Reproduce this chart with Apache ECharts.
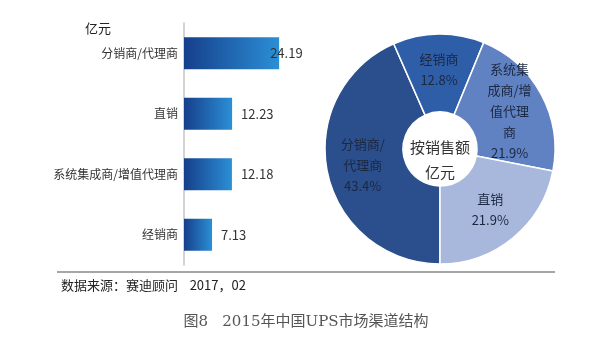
<!DOCTYPE html>
<html><head><meta charset="utf-8">
<script src="https://cdn.jsdelivr.net/npm/echarts@6/dist/echarts.min.js"></script>
<style>html,body{margin:0;padding:0;background:#fff}#c{width:600px;height:346px}</style>
</head><body><div id="c"></div>
<script>
// Data
const barCategories = ['分销商/代理商', '直销', '系统集成商/增值代理商', '经销商'];
const barValues = [24.19, 12.23, 12.18, 7.13];
const pieNames = ['分销商/代理商', '经销商', '系统集成商/增值代理商', '直销'];
const pieValues = [24.19, 7.13, 12.18, 12.23];
const pieLabelNames = ['分销商/\n代理商', '经销商', '系统集\n成商/增\n值代理\n商', '直销'];
const pieColors = ['#2b4f8c', '#2f5ea9', '#6082c2', '#a8b8dc'];
const unitText = '亿元';
const centerText = '按销售额\n亿元';
const sourceText = '数据来源：赛迪顾问    2017，02';
const captionText = '图8   2015年中国UPS市场渠道结构';

const font = '"Noto Sans CJK SC", "Noto Sans", sans-serif';
const chart = echarts.init(document.getElementById('c'));
chart.setOption({
  backgroundColor: '#fff',
  animation: false,
  textStyle: { fontFamily: font },
  grid: { left: 184, top: 23, width: 118, height: 242, containLabel: false },
  xAxis: { type: 'value', min: 0, max: 30, show: false },
  yAxis: {
    type: 'category', data: barCategories, inverse: true,
    axisLine: { lineStyle: { color: '#c4c4c4', width: 1.5 } },
    axisTick: { show: false },
    axisLabel: { color: '#333', fontSize: 12, margin: 6 }
  },
  series: [
    {
      type: 'bar', barWidth: 32,
      data: barValues.map((v, i) => i === 0 ? { value: v, label: { offset: [-18, 0] } } : v),
      itemStyle: {
        color: new echarts.graphic.LinearGradient(0, 0, 1, 0, [
          { offset: 0, color: '#163f8b' },
          { offset: 1, color: '#2b8fd6' }
        ])
      },
      label: { show: true, position: 'right', distance: 9, color: '#333', fontSize: 13 }
    },
    {
      type: 'pie', center: [440, 149], radius: [37, 115],
      startAngle: -90, clockwise: true, percentPrecision: 1,
      itemStyle: { borderColor: '#fff', borderWidth: 1.5 },
      data: pieNames.map((n, i) => ({ name: n, value: pieValues[i], itemStyle: { color: pieColors[i] } })),
      label: {
        show: true, position: 'inner', color: '#1c2740', fontSize: 13, lineHeight: 21,
        formatter: p => pieLabelNames[p.dataIndex] + '\n' + p.percent.toFixed(1) + '%'
      },
      labelLine: { show: false }
    }
  ],
  graphic: [
    { type: 'text', left: 85, top: 22, style: { text: unitText, fill: '#222', font: '13px ' + font } },
    { type: 'text', x: 440, y: 160, style: { text: centerText, fill: '#333', font: '15px ' + font, lineHeight: 25, align: 'center', verticalAlign: 'middle' } },
    { type: 'line', shape: { x1: 57, y1: 272, x2: 555, y2: 272 }, style: { stroke: '#888', lineWidth: 1.5 } },
    { type: 'text', x: 61, y: 285, style: { text: sourceText, fill: '#222', font: '13px ' + font, verticalAlign: 'middle' } },
    { type: 'text', x: 306, y: 322, style: { text: captionText, fill: '#555', font: '15px "DejaVu Serif", "Noto Sans CJK SC", serif', align: 'center', verticalAlign: 'middle' } }
  ]
});
</script></body></html>
